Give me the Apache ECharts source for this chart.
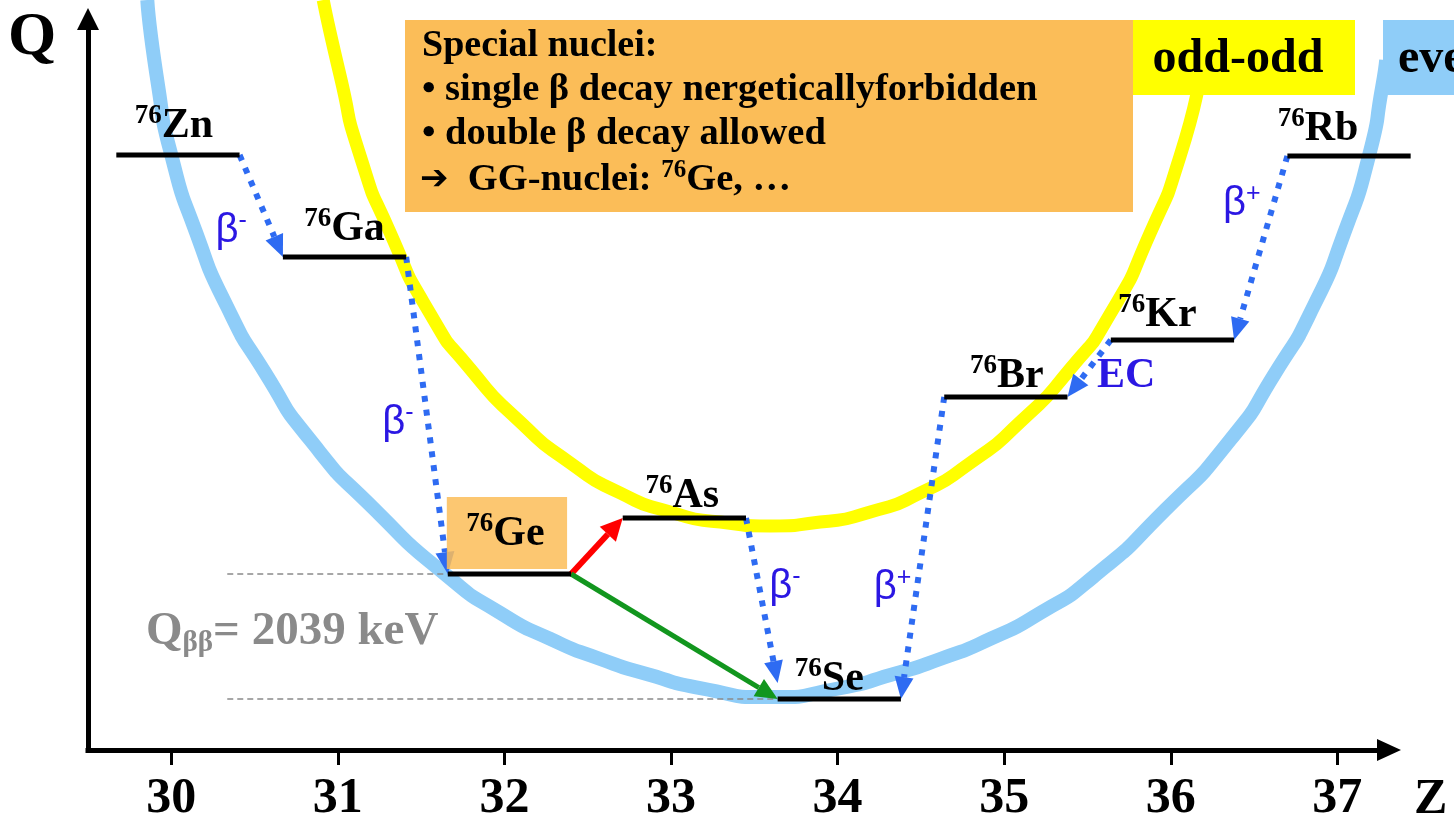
<!DOCTYPE html>
<html>
<head>
<meta charset="utf-8">
<script src="https://cdn.jsdelivr.net/npm/echarts@6/dist/echarts.min.js"></script>
<style>html,body{margin:0;padding:0;background:#fff}#chart{width:1454px;height:820px}</style>
</head>
<body>
<div id="chart"></div>
<script>
// ---------- data ----------
const massNumber = 76;
const nuclides = ['Zn', 'Ga', 'Ge', 'As', 'Se', 'Br', 'Kr', 'Rb'];
const levelZ = [30.04, 31.04, 32.03, 33.08, 34.01, 35.01, 36.01, 37.07];
const levelQ = [8874, 7210, 2039, 2952, 0, 4926, 5856, 8857];   // keV above 76Se (schematic)
const levelHalfWidth = 0.37;
const xTicks = [30, 31, 32, 33, 34, 35, 36, 37];

// even-even mass parabola (light blue)
const evenEvenZ = [29.856, 29.922, 30.000, 30.150, 30.336, 30.564, 30.834, 31.224, 31.657, 31.975, 32.275, 32.575, 32.875, 33.175, 33.595,
                   34.016, 34.316, 34.616, 34.916, 35.216, 35.534, 35.966, 36.357, 36.627, 36.855, 37.041, 37.191, 37.269, 37.293];
const evenEvenQ = [11402, 9983, 8874, 7601, 6394, 5318, 4225, 3083, 2006, 1403, 979, 652, 391, 179, 33,
                   179, 391, 652, 979, 1403, 1990, 3083, 4225, 5318, 6394, 7601, 8874, 9983, 10423];
// odd-odd mass parabola (yellow)
const oddOddZ = [30.912, 31.014, 31.134, 31.315, 31.555, 31.795, 32.095, 32.395, 32.695, 32.995, 33.295, 33.595,
                 33.896, 34.196, 34.496, 34.796, 35.096, 35.396, 35.636, 35.876, 36.056, 36.176];
const oddOddQ = [11402, 10162, 8857, 7601, 6280, 5383, 4518, 3850, 3360, 3050, 2887, 2822,
                 2887, 3050, 3360, 3850, 4518, 5383, 6280, 7601, 8857, 10162];

// decays
const decayFrom = ['Zn', 'Ga', 'As', 'Br', 'Rb', 'Kr', 'Ge', 'Ge'];
const decayFromEnd = ['R', 'R', 'R', 'L', 'L', 'L', 'R', 'R'];
const decayTo = ['Ga', 'Ge', 'Se', 'Se', 'Kr', 'Br', 'As', 'Se'];
const decayToEnd = ['L', 'L', 'L', 'R', 'R', 'R', 'L', 'L'];
const decayLabel = ['β-', 'β-', 'β-', 'β+', 'β+', 'EC', '', ''];
const decayKind = ['single', 'single', 'single', 'single', 'single', 'single', 'forbidden', 'double'];

const guideStartZ = 30.336;
const qbbText = '2039 keV';

// ---------- layout / style (pixels) ----------
const serif = "'Liberation Serif','Times New Roman',serif";
const sans = "'Liberation Sans',Arial,sans-serif";
const labelDx = [-4, 0, -4, -2, -10, 1, -15, -31];
const labelBaseGap = [15, 14, 26, 8, 6, 7, 11, 13];
const decayLabelDx = [-30, -29, 23, -30, -19, 37];
const decayLabelDy = [25, 7, -14, 40, -44, 8];
const decayEndLift = [0, 0, 16, 0, 0, 0, 0, 0];
const decayStyle = {
  single: {color: '#2e6bf2', width: 6, dash: [6, 8], head: 22, half: 9.5},
  forbidden: {color: '#ff0000', width: 6, dash: null, head: 22, half: 11},
  double: {color: '#12961e', width: 5, dash: null, head: 22, half: 10}
};
const labelColor = '#2b17e3';

const side = s => (s === 'R' ? 1 : -1);

function renderLevel(params, api) {
  const i = api.value(2);
  const z = api.value(0), q = api.value(1);
  const p1 = api.coord([z - levelHalfWidth, q]);
  const p2 = api.coord([z + levelHalfWidth, q]);
  const cx = (p1[0] + p2[0]) / 2;
  return {
    type: 'group',
    children: [
      {type: 'line', shape: {x1: p1[0], y1: p1[1], x2: p2[0], y2: p2[1]},
       style: {stroke: '#000', lineWidth: 5}},
      {type: 'text', x: cx + labelDx[i], y: p1[1] - labelBaseGap[i] + 9,
       style: {
         text: '{m|' + massNumber + '}{e|' + nuclides[i] + '}',
         align: 'center', verticalAlign: 'bottom',
         rich: {
           m: {fontSize: 27, lineHeight: 27, verticalAlign: 'top', fontFamily: serif, fontWeight: 'bold', fill: '#000'},
           e: {fontSize: 42, lineHeight: 46, fontFamily: serif, fontWeight: 'bold', fill: '#000'}
         }
       }}
    ]
  };
}

function renderDecay(params, api) {
  const i = api.value(2);
  const a = nuclides.indexOf(decayFrom[i]);
  const b = nuclides.indexOf(decayTo[i]);
  const start = api.coord([levelZ[a] + side(decayFromEnd[i]) * levelHalfWidth, levelQ[a]]);
  const end = api.coord([levelZ[b] + side(decayToEnd[i]) * levelHalfWidth, levelQ[b]]);
  end[1] -= decayEndLift[i];
  const st = decayStyle[decayKind[i]];
  const dx = end[0] - start[0], dy = end[1] - start[1];
  const len = Math.hypot(dx, dy), ux = dx / len, uy = dy / len;
  const bx = end[0] - ux * st.head, by = end[1] - uy * st.head;
  const children = [
    {type: 'line', shape: {x1: start[0], y1: start[1], x2: bx, y2: by},
     style: {stroke: st.color, lineWidth: st.width, lineDash: st.dash, lineCap: 'butt'}},
    {type: 'polygon', shape: {points: [[end[0], end[1]], [bx - uy * st.half, by + ux * st.half], [bx + uy * st.half, by - ux * st.half]]},
     style: {fill: st.color}}
  ];
  const lab = decayLabel[i];
  if (lab) {
    const mx = (start[0] + end[0]) / 2 + decayLabelDx[i];
    const my = (start[1] + end[1]) / 2 + decayLabelDy[i];
    const txt = lab === 'EC' ? '{ec|EC}' : '{b|β}{s|' + lab.slice(1) + '}';
    children.push({type: 'text', x: mx, y: my, style: {
      text: txt, align: 'center', verticalAlign: 'middle',
      rich: {
        b: {fontSize: 40, lineHeight: 44, fontFamily: sans, fill: labelColor},
        s: {fontSize: 25, lineHeight: 24, verticalAlign: 'top', fontFamily: sans, fill: labelColor},
        ec: {fontSize: 42, lineHeight: 44, fontFamily: serif, fontWeight: 'bold', fill: labelColor}
      }
    }});
  }
  return {type: 'group', children: children};
}

function renderGeBox(params, api) {
  const z = api.value(0), q = api.value(1);
  const p1 = api.coord([z - levelHalfWidth, q]);
  const p2 = api.coord([z + levelHalfWidth, q]);
  return {type: 'rect', shape: {x: p1[0] - 1, y: p1[1] - 77, width: p2[0] - p1[0] - 3, height: 72},
          style: {fill: '#fbbd58', opacity: 0.85}};
}

const geIdx = nuclides.indexOf('Ge');
const seIdx = nuclides.indexOf('Se');

const option = {
  animation: false,
  backgroundColor: '#fff',
  grid: {left: 88, right: 65, top: 19, bottom: 70, containLabel: false, outerBoundsMode: 'none'},
  xAxis: {
    type: 'value', min: 29.5, max: 37.31,
    axisLine: {show: true, onZero: false, symbol: ['none', 'triangle'], symbolSize: [22, 24],
               lineStyle: {color: '#000', width: 5, cap: 'square'}},
    axisTick: {show: true, customValues: xTicks, length: 15, lineStyle: {color: '#000', width: 3}},
    axisLabel: {customValues: xTicks, fontSize: 50, fontWeight: 'bold', fontFamily: serif, color: '#000', margin: 24},
    splitLine: {show: false}
  },
  yAxis: {
    type: 'value', min: -832, max: 11092,
    axisLine: {show: true, onZero: false, symbol: ['none', 'triangle'], symbolSize: [22, 22],
               lineStyle: {color: '#000', width: 5, cap: 'square'}},
    axisTick: {show: false}, axisLabel: {show: false}, splitLine: {show: false}
  },
  series: [
    {type: 'line', name: 'even-even', data: evenEvenZ.map((z, i) => [z, evenEvenQ[i]]),
     smooth: 0.7, symbol: 'none', clip: false, z: 1,
     lineStyle: {color: '#8fcdf8', width: 14}},
    {type: 'line', name: 'odd-odd', data: oddOddZ.map((z, i) => [z, oddOddQ[i]]),
     smooth: 0.7, symbol: 'none', clip: false, z: 2,
     lineStyle: {color: '#ffff00', width: 13}},
    {type: 'line', name: 'guide Ge', data: [[guideStartZ, levelQ[geIdx]], [levelZ[geIdx] - levelHalfWidth, levelQ[geIdx]]],
     symbol: 'none', z: 2, lineStyle: {color: '#8a8a8a', width: 1.3, type: [6, 4]}},
    {type: 'line', name: 'guide Se', data: [[guideStartZ, levelQ[seIdx]], [levelZ[seIdx] - levelHalfWidth, levelQ[seIdx]]],
     symbol: 'none', z: 2, lineStyle: {color: '#8a8a8a', width: 1.3, type: [6, 4]}},
    {type: 'custom', name: 'decays', renderItem: renderDecay, z: 3, clip: false,
     data: decayFrom.map((n, i) => [levelZ[nuclides.indexOf(n)], levelQ[nuclides.indexOf(n)], i])},
    {type: 'custom', name: 'Ge box', renderItem: renderGeBox, z: 4,
     data: [[levelZ[geIdx], levelQ[geIdx]]]},
    {type: 'custom', name: 'levels', renderItem: renderLevel, z: 5, clip: false,
     data: nuclides.map((n, i) => [levelZ[i], levelQ[i], i])}
  ],
  graphic: [
    {type: 'rect', z: 100, shape: {x: 405, y: 20, width: 728, height: 192}, style: {fill: '#fbbd58'}},
    {type: 'rect', z: 100, shape: {x: 1133, y: 20, width: 222, height: 75}, style: {fill: '#ffff00'}},
    {type: 'rect', z: 100, shape: {x: 1383, y: 20, width: 120, height: 75}, style: {fill: '#8fcdf8'}},
    {type: 'text', z: 101, x: 422, y: 46, style: {text: 'Special nuclei:', fontSize: 38, fontWeight: 'bold', fontFamily: serif, fill: '#000', verticalAlign: 'middle'}},
    {type: 'text', z: 101, x: 422, y: 90, style: {text: '• single β decay nergeticallyforbidden', fontSize: 38.5, fontWeight: 'bold', fontFamily: serif, fill: '#000', verticalAlign: 'middle'}},
    {type: 'text', z: 101, x: 422, y: 134, style: {text: '• double β decay allowed', fontSize: 38.5, fontWeight: 'bold', fontFamily: serif, fill: '#000', verticalAlign: 'middle'}},
    {type: 'text', z: 101, x: 420, y: 180, style: {
      text: '{a|➔}{t|  GG-nuclei: }{m|76}{t|Ge, …}', verticalAlign: 'middle',
      rich: {
        a: {fontSize: 34, lineHeight: 44, fontFamily: "'DejaVu Sans'", fontWeight: 'bold', fill: '#000'},
        t: {fontSize: 38.5, lineHeight: 44, fontFamily: serif, fontWeight: 'bold', fill: '#000'},
        m: {fontSize: 25, lineHeight: 25, verticalAlign: 'top', fontFamily: serif, fontWeight: 'bold', fill: '#000'}
      }}},
    {type: 'text', z: 101, x: 1238, y: 60, style: {text: 'odd-odd', fontSize: 48, fontWeight: 'bold', fontFamily: serif, fill: '#000', align: 'center', verticalAlign: 'middle'}},
    {type: 'text', z: 101, x: 1398, y: 60, style: {text: 'even-even', fontSize: 48, fontWeight: 'bold', fontFamily: serif, fill: '#000', verticalAlign: 'middle'}},
    {type: 'text', z: 101, x: 8, y: 38, style: {text: 'Q', fontSize: 62, fontWeight: 'bold', fontFamily: serif, fill: '#000', verticalAlign: 'middle'}},
    {type: 'text', z: 101, x: 1414, y: 800, style: {text: 'Z', fontSize: 50, fontWeight: 'bold', fontFamily: serif, fill: '#000', verticalAlign: 'middle'}},
    {type: 'text', z: 101, x: 146, y: 632, style: {
      text: '{q|Q}{sub|ββ}{t|= ' + qbbText + '}', verticalAlign: 'middle',
      rich: {
        q: {fontSize: 47, lineHeight: 52, fontFamily: serif, fontWeight: 'bold', fill: '#8a8a8a'},
        sub: {fontSize: 29, lineHeight: 16, verticalAlign: 'bottom', fontFamily: serif, fontWeight: 'bold', fill: '#8a8a8a'},
        t: {fontSize: 47, lineHeight: 52, fontFamily: serif, fontWeight: 'bold', fill: '#8a8a8a'}
      }}}
  ]
};

const chart = echarts.init(document.getElementById('chart'), null, {renderer: 'canvas'});
chart.setOption(option);
</script>
</body>
</html>
